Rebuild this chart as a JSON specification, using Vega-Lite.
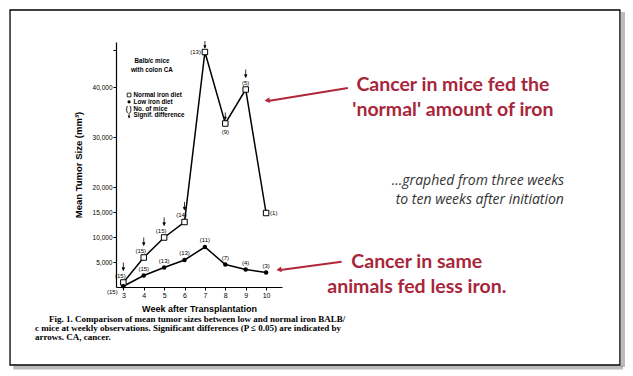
{
  "$schema": "https://vega.github.io/schema/vega-lite/v6.json",
  "width": 166,
  "height": 245,
  "autosize": {"type": "none"},
  "padding": {"left": 116, "top": 42, "right": 351, "bottom": 89},
  "background": "white",
  "config": {
    "view": {"stroke": null},
    "font": "Liberation Sans",
    "axis": {"labelOverlap": false, "labelBound": false, "labelFlush": false}
  },
  "datasets": {
    "tumor": [
      {"week": 3, "diet": "Normal iron diet", "size": 900, "n": "(15)", "signif": true},
      {"week": 4, "diet": "Normal iron diet", "size": 5900, "n": "(15)", "signif": true},
      {"week": 5, "diet": "Normal iron diet", "size": 9900, "n": "(15)", "signif": true},
      {"week": 6, "diet": "Normal iron diet", "size": 13000, "n": "(14)", "signif": true},
      {"week": 7, "diet": "Normal iron diet", "size": 47000, "n": "(13)", "signif": true},
      {"week": 8, "diet": "Normal iron diet", "size": 32700, "n": "(9)", "signif": true},
      {"week": 9, "diet": "Normal iron diet", "size": 39500, "n": "(5)", "signif": true},
      {"week": 10, "diet": "Normal iron diet", "size": 14800, "n": "(1)", "signif": false},
      {"week": 3, "diet": "Low iron diet", "size": 150, "n": "(15)", "signif": true},
      {"week": 4, "diet": "Low iron diet", "size": 2300, "n": "(15)", "signif": true},
      {"week": 5, "diet": "Low iron diet", "size": 3900, "n": "(13)", "signif": true},
      {"week": 6, "diet": "Low iron diet", "size": 5400, "n": "(13)", "signif": true},
      {"week": 7, "diet": "Low iron diet", "size": 8000, "n": "(11)", "signif": true},
      {"week": 8, "diet": "Low iron diet", "size": 4500, "n": "(7)", "signif": true},
      {"week": 9, "diet": "Low iron diet", "size": 3500, "n": "(4)", "signif": true},
      {"week": 10, "diet": "Low iron diet", "size": 2900, "n": "(3)", "signif": false}
    ],
    "frame": [{"week": -2.556, "week2": 27.35, "size": 55400, "size2": -15600}],
    "shadowR": [{"week": 27.5, "size": 55000, "size2": -16000}],
    "shadowB": [{"week": -2.4, "week2": 27.5, "size": -16100}],
    "head": [
      {"text": "Balb/c mice", "week": 4.4, "size": 45200},
      {"text": "with colon CA", "week": 4.4, "size": 43500}
    ],
    "legendText": [
      {"text": "Normal iron diet", "week": 3.5, "size": 38400},
      {"text": "Low iron diet", "week": 3.5, "size": 37040},
      {"text": "No. of mice", "week": 3.5, "size": 35660},
      {"text": "Signif. difference", "week": 3.5, "size": 34340}
    ],
    "legendSq": [{"week": 3.28, "size": 38400}],
    "legendDot": [{"week": 3.28, "size": 37040}],
    "legendParen": [{"text": "( )", "week": 3.26, "size": 35660}],
    "legendArrow": [{"week": 3.28, "size": 34340}],
    "caption": [
      {"text": "Fig. 1.  Comparison of mean tumor sizes between low and normal iron BALB/", "week": -0.64, "size": -6400},
      {"text": "c mice at weekly observations. Significant differences (P ≤ 0.05) are indicated by", "week": -1.33, "size": -8200},
      {"text": "arrows. CA, cancer.", "week": -1.33, "size": -10000}
    ],
    "redNotes": [
      {"text": "Cancer in mice fed the", "week": 19.16, "size": 40400},
      {"text": "'normal' amount of iron", "week": 19.16, "size": 35400},
      {"text": "Cancer in same", "week": 17.39, "size": 5000},
      {"text": "animals fed less iron.", "week": 17.39, "size": 0}
    ],
    "grayNotes": [
      {"text": "...graphed from three weeks", "week": 20.39, "size": 21200},
      {"text": "to ten weeks after initiation", "week": 20.48, "size": 17400}
    ],
    "redLines": [
      {"arrow": "normal", "week": 10.1, "size": 37200},
      {"arrow": "normal", "week": 14.01, "size": 39800},
      {"arrow": "low", "week": 10.7, "size": 3400},
      {"arrow": "low", "week": 13.7, "size": 5060}
    ],
    "redHeads": [
      {"arrow": "normal", "week": 10.05, "size": 37300},
      {"arrow": "low", "week": 10.63, "size": 3450}
    ]
  },
  "layer": [
    {
      "data": {"name": "tumor"},
      "mark": {"type": "line", "color": "black", "strokeWidth": 1.5},
      "encoding": {
        "x": {
          "field": "week", "type": "quantitative",
          "scale": {"domain": [2.64, 10.78], "nice": false, "zero": false},
          "axis": {
            "tickCount": 8,
            "tickMinStep": 1,
            "format": "d",
            "zindex": 1,
            "grid": false,
            "labelOverlap": false,
            "domainColor": "black",
            "domainWidth": 1.2,
            "tickColor": "black",
            "tickSize": 3,
            "labelFontSize": 7,
            "labelColor": "black",
            "labelPadding": 1,
            "title": "Week after Transplantation",
            "titleFont": "Liberation Sans",
            "titleFontSize": 9,
            "titleFontWeight": "bold",
            "titleColor": "black",
            "titlePadding": 6
          }
        },
        "y": {
          "field": "size", "type": "quantitative",
          "scale": {"domain": [0, 49000], "nice": false},
          "axis": {
            "values": [5000, 10000, 15000, 20000, 30000, 40000, 47500],
            "zindex": 1,
            "labelExpr": "datum.value > 45000 ? '' : format(datum.value, ',')",
            "labelOverlap": false,
            "grid": false,
            "domainColor": "black",
            "domainWidth": 1.2,
            "tickColor": "black",
            "tickSize": 3,
            "labelFontSize": 6.5,
            "labelColor": "black",
            "labelPadding": 1,
            "title": "Mean Tumor Size (mm³)",
            "titleFont": "Liberation Sans",
            "titleFontSize": 9.5,
            "titleFontWeight": "bold",
            "titleColor": "black",
            "titlePadding": 9
          }
        },
        "detail": {"field": "diet"}
      }
    },
    {
      "data": {"name": "shadowR"},
      "mark": {"type": "rule", "color": "#777", "strokeWidth": 4, "opacity": 0.5},
      "encoding": {
        "x": {"field": "week", "type": "quantitative"},
        "y": {"field": "size", "type": "quantitative"},
        "y2": {"field": "size2"}
      }
    },
    {
      "data": {"name": "shadowB"},
      "mark": {"type": "rule", "color": "#777", "strokeWidth": 4, "opacity": 0.5},
      "encoding": {
        "x": {"field": "week", "type": "quantitative"},
        "x2": {"field": "week2"},
        "y": {"field": "size", "type": "quantitative"}
      }
    },
    {
      "data": {"name": "frame"},
      "mark": {"type": "rect", "fill": "transparent", "stroke": "black", "strokeWidth": 1.3},
      "encoding": {
        "x": {"field": "week", "type": "quantitative"},
        "x2": {"field": "week2"},
        "y": {"field": "size", "type": "quantitative"},
        "y2": {"field": "size2"}
      }
    },
    {
      "data": {"name": "tumor"},
      "transform": [{"filter": "datum.diet == 'Normal iron diet'"}],
      "mark": {"type": "point", "shape": "square", "filled": true, "fill": "white", "stroke": "black", "strokeWidth": 1, "size": 30, "opacity": 1},
      "encoding": {
        "x": {"field": "week", "type": "quantitative"},
        "y": {"field": "size", "type": "quantitative"}
      }
    },
    {
      "data": {"name": "tumor"},
      "transform": [{"filter": "datum.diet == 'Low iron diet'"}],
      "mark": {"type": "point", "shape": "circle", "filled": true, "color": "black", "size": 20, "opacity": 1},
      "encoding": {
        "x": {"field": "week", "type": "quantitative"},
        "y": {"field": "size", "type": "quantitative"}
      }
    },
    {
      "data": {"name": "tumor"},
      "transform": [{"filter": "datum.diet == 'Normal iron diet' && datum.week <= 6"}],
      "mark": {"type": "text", "fontSize": 6, "color": "black", "dx": -3, "dy": -7},
      "encoding": {
        "x": {"field": "week", "type": "quantitative"},
        "y": {"field": "size", "type": "quantitative"},
        "text": {"field": "n"}
      }
    },
    {
      "data": {"name": "tumor"},
      "transform": [{"filter": "datum.diet == 'Normal iron diet' && datum.week == 9"}],
      "mark": {"type": "text", "fontSize": 6, "color": "black", "dy": -7},
      "encoding": {
        "x": {"field": "week", "type": "quantitative"},
        "y": {"field": "size", "type": "quantitative"},
        "text": {"field": "n"}
      }
    },
    {
      "data": {"name": "tumor"},
      "transform": [{"filter": "datum.diet == 'Normal iron diet' && datum.week == 7"}],
      "mark": {"type": "text", "fontSize": 6, "color": "black", "align": "right", "dx": -4},
      "encoding": {
        "x": {"field": "week", "type": "quantitative"},
        "y": {"field": "size", "type": "quantitative"},
        "text": {"field": "n"}
      }
    },
    {
      "data": {"name": "tumor"},
      "transform": [{"filter": "datum.diet == 'Normal iron diet' && datum.week == 8"}],
      "mark": {"type": "text", "fontSize": 6, "color": "black", "dy": 8},
      "encoding": {
        "x": {"field": "week", "type": "quantitative"},
        "y": {"field": "size", "type": "quantitative"},
        "text": {"field": "n"}
      }
    },
    {
      "data": {"name": "tumor"},
      "transform": [{"filter": "datum.diet == 'Normal iron diet' && datum.week == 10"}],
      "mark": {"type": "text", "fontSize": 6, "color": "black", "align": "left", "dx": 4},
      "encoding": {
        "x": {"field": "week", "type": "quantitative"},
        "y": {"field": "size", "type": "quantitative"},
        "text": {"field": "n"}
      }
    },
    {
      "data": {"name": "tumor"},
      "transform": [{"filter": "datum.diet == 'Low iron diet' && datum.week > 3"}],
      "mark": {"type": "text", "fontSize": 6, "color": "black", "dy": -7},
      "encoding": {
        "x": {"field": "week", "type": "quantitative"},
        "y": {"field": "size", "type": "quantitative"},
        "text": {"field": "n"}
      }
    },
    {
      "data": {"name": "tumor"},
      "transform": [{"filter": "datum.diet == 'Low iron diet' && datum.week == 3"}],
      "mark": {"type": "text", "fontSize": 6, "color": "black", "dx": -11, "dy": 6},
      "encoding": {
        "x": {"field": "week", "type": "quantitative"},
        "y": {"field": "size", "type": "quantitative"},
        "text": {"field": "n"}
      }
    },
    {
      "data": {"name": "tumor"},
      "transform": [{"filter": "datum.diet == 'Normal iron diet' && datum.signif && (datum.week <= 6 || datum.week == 9)"}],
      "mark": {"type": "point", "shape": "M0,-1L0,0.4M-0.3,0.3L0.3,0.3L0,1Z", "filled": true, "fill": "black", "stroke": "black", "strokeWidth": 0.8, "size": 64, "yOffset": -16, "opacity": 1},
      "encoding": {
        "x": {"field": "week", "type": "quantitative"},
        "y": {"field": "size", "type": "quantitative"}
      }
    },
    {
      "data": {"name": "tumor"},
      "transform": [{"filter": "datum.diet == 'Normal iron diet' && datum.signif && (datum.week == 7 || datum.week == 8)"}],
      "mark": {"type": "point", "shape": "M0,-1L0,0.4M-0.3,0.3L0.3,0.3L0,1Z", "filled": true, "fill": "black", "stroke": "black", "strokeWidth": 0.8, "size": 49, "yOffset": -7.5, "opacity": 1},
      "encoding": {
        "x": {"field": "week", "type": "quantitative"},
        "y": {"field": "size", "type": "quantitative"}
      }
    },
    {
      "data": {"name": "head"},
      "mark": {"type": "text", "fontSize": 6.3, "fontWeight": "bold", "color": "black"},
      "encoding": {
        "x": {"field": "week", "type": "quantitative"},
        "y": {"field": "size", "type": "quantitative"},
        "text": {"field": "text"}
      }
    },
    {
      "data": {"name": "legendText"},
      "mark": {"type": "text", "fontSize": 6.3, "fontWeight": "bold", "color": "black", "align": "left"},
      "encoding": {
        "x": {"field": "week", "type": "quantitative"},
        "y": {"field": "size", "type": "quantitative"},
        "text": {"field": "text"}
      }
    },
    {
      "data": {"name": "legendSq"},
      "mark": {"type": "point", "shape": "square", "filled": true, "fill": "white", "stroke": "black", "strokeWidth": 0.8, "size": 14, "opacity": 1},
      "encoding": {
        "x": {"field": "week", "type": "quantitative"},
        "y": {"field": "size", "type": "quantitative"}
      }
    },
    {
      "data": {"name": "legendDot"},
      "mark": {"type": "point", "shape": "circle", "filled": true, "color": "black", "size": 10, "opacity": 1},
      "encoding": {
        "x": {"field": "week", "type": "quantitative"},
        "y": {"field": "size", "type": "quantitative"}
      }
    },
    {
      "data": {"name": "legendParen"},
      "mark": {"type": "text", "fontSize": 6.3, "fontWeight": "bold", "color": "black"},
      "encoding": {
        "x": {"field": "week", "type": "quantitative"},
        "y": {"field": "size", "type": "quantitative"},
        "text": {"field": "text"}
      }
    },
    {
      "data": {"name": "legendArrow"},
      "mark": {"type": "point", "shape": "M0,-1L0,0.4M-0.3,0.3L0.3,0.3L0,1Z", "filled": true, "fill": "black", "stroke": "black", "strokeWidth": 0.8, "size": 25, "opacity": 1},
      "encoding": {
        "x": {"field": "week", "type": "quantitative"},
        "y": {"field": "size", "type": "quantitative"}
      }
    },
    {
      "data": {"name": "caption"},
      "mark": {"type": "text", "font": "Liberation Serif", "fontSize": 9, "fontWeight": "bold", "color": "black", "align": "left"},
      "encoding": {
        "x": {"field": "week", "type": "quantitative"},
        "y": {"field": "size", "type": "quantitative"},
        "text": {"field": "text"}
      }
    },
    {
      "data": {"name": "redLines"},
      "mark": {"type": "line", "color": "#b0273b", "strokeWidth": 2},
      "encoding": {
        "x": {"field": "week", "type": "quantitative"},
        "y": {"field": "size", "type": "quantitative"},
        "detail": {"field": "arrow"}
      }
    },
    {
      "data": {"name": "redHeads"},
      "transform": [{"filter": "datum.arrow == 'normal'"}],
      "mark": {"type": "point", "shape": "triangle-left", "filled": true, "color": "#b0273b", "size": 35, "angle": -8, "opacity": 1},
      "encoding": {
        "x": {"field": "week", "type": "quantitative"},
        "y": {"field": "size", "type": "quantitative"}
      }
    },
    {
      "data": {"name": "redHeads"},
      "transform": [{"filter": "datum.arrow == 'low'"}],
      "mark": {"type": "point", "shape": "triangle-left", "filled": true, "color": "#b0273b", "size": 35, "angle": -7, "opacity": 1},
      "encoding": {
        "x": {"field": "week", "type": "quantitative"},
        "y": {"field": "size", "type": "quantitative"}
      }
    },
    {
      "data": {"name": "redNotes"},
      "mark": {"type": "text", "font": "Lato", "fontSize": 19.5, "fontWeight": "bold", "color": "#a8263b"},
      "encoding": {
        "x": {"field": "week", "type": "quantitative"},
        "y": {"field": "size", "type": "quantitative"},
        "text": {"field": "text"}
      }
    },
    {
      "data": {"name": "grayNotes"},
      "mark": {"type": "text", "font": "Open Sans", "fontSize": 14, "fontStyle": "italic", "color": "#333333"},
      "encoding": {
        "x": {"field": "week", "type": "quantitative"},
        "y": {"field": "size", "type": "quantitative"},
        "text": {"field": "text"}
      }
    }
  ]
}
